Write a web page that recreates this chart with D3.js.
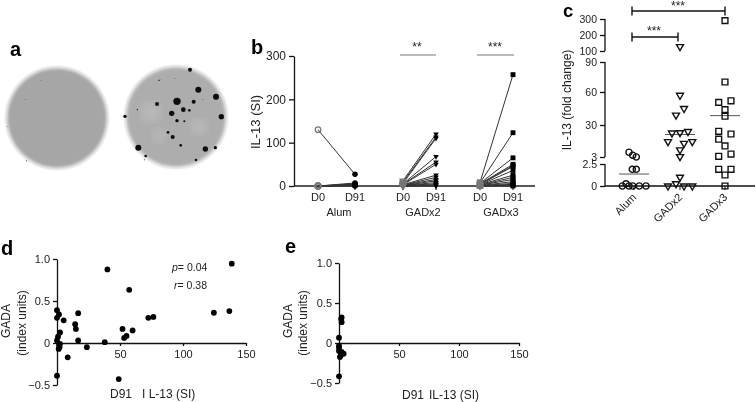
<!DOCTYPE html>
<html><head><meta charset="utf-8">
<script src="https://cdn.jsdelivr.net/npm/d3@7/dist/d3.min.js"></script>
<style>
html,body{margin:0;padding:0;background:#fff}
svg{display:block;filter:blur(0.35px)}
text{font-family:"Liberation Sans",Arial,sans-serif;fill:#222}
</style></head><body><svg id="c" width="756" height="402"></svg>
<script>
// ---------- data ----------
const panelLetters = ["a","b","c","d","e"];
// panel a: colony spots on the second plate, dish-relative units [dx, dy, size]
const plateSpots = [[42,-142,6],[67,-82,9],[120,-61,9],[136,-1,8],[3,-47,11],[53,-46,6],[-57,-39,6],[22,-22,7],[40,-20,4],[-13,-11,8],[3,11,5],[25,13,3],[-24,46,4],[-10,60,6],[14,85,4],[-113,92,9],[88,96,8],[118,92,5],[-91,117,4],[60,129,4],[-153,-2,5],[-51,-110,2],[-116,-22,2]];
const plateSpecks = [[-48,-113,1],[80,-52,1],[-95,128,1.5],[-3,-115,1]];
// panel b
const groupsB = ["Alum","GADx2","GADx3"];
const dayLabels = ["D0","D91"];
const alumD0 = [130,0,0,0,0,0,0,0,0,0];
const alumD91 = [27,7,5,4,3,2,2,1,1,0];
const gad2D0 = [12,9,6,5,4,3,3,2,2,1,1,1,0,0,0];
const gad2D91 = [120,113,110,68,55,50,25,20,15,12,8,5,3,2,0];
const gad3D0 = [8,7,6,5,4,4,3,3,2,2,1,1,0,0,0];
const gad3D91 = [257,123,65,50,47,45,36,25,20,15,10,6,4,2,0];
const ticksB = [0,100,200,300];
// panel c
const ticksC = [0,2.5,3,30,60,90,100,200,300];
const catsC = ["Alum","GADx2","GADx3"];
const alumFold = [7,4.5,3,1.9,1.9,0,0.25,0,0,0,0];
const alumJitter = [-5,-1.3,2.3,-1.7,2.3,-11.7,-8,-5,-1.3,5.3,12];
const gad2Fold = [127,57,45,39,24.5,23.5,23.2,16,16,14.5,9,3.3,1,0.26,0,0,0];
const gad2Jitter = [0,0,4,-4,8,0,-8,-12,12.3,4,0,0,0,-4,-12,4,12.3];
const gad3Fold = [290,70,52,50.6,44,38,24.7,22.4,18,12.3,5.5,3.6,1.9,1.9,1.25,0];
const gad3Jitter = [0,0,6,-6.3,0,0,-6.3,6,-6.3,0,6,-6.3,-6.3,6,0,0];
const mediansC = [1.36,22,38.5];
// panel d
const dX = [138.7,40,57.3,124.5,136.8,72.5,76.5,52,60,55.2,53.3,37.9,23.7,16.8,14.4,15,16.8,8.5,5.3,1.6,0,0,2.4,0.8,0,1.6,2,1.3,0,49,2.4];
const dY = [0.944,0.876,0.633,0.36,0.38,0.30,0.31,0.167,0.15,0.084,0.06,0.01,-0.05,0.355,0.223,0.167,0.03,-0.17,0.27,0.34,0.39,0.30,0.125,0.075,0.03,-0.02,-0.05,-0.07,-0.39,-0.43,-0.01];
// panel e
const eX = [2.2,1.8,2.2,0,0,0,0,2.2,3.9,1.7,0.8,0];
const eY = [0.32,0.30,0.26,0.067,-0.033,-0.06,-0.1,-0.11,-0.133,-0.15,-0.175,-0.417];
const ticksScatterX = [50,100,150];
const ticksScatterY = [-0.5,0,0.5,1];

// ---------- helpers ----------
const svg = d3.select("#c");
const INK = "#111";
const defs = svg.append("defs");
defs.append("filter").attr("id","b2").append("feGaussianBlur").attr("stdDeviation",1.6);
defs.append("filter").attr("id","b1").append("feGaussianBlur").attr("stdDeviation",0.6);
defs.append("filter").attr("id","b5").append("feGaussianBlur").attr("stdDeviation",4);
function styleAxis(g,fs,sw){
  g.selectAll("path.domain").attr("stroke",INK).attr("stroke-width",sw).attr("fill","none");
  g.selectAll(".tick line").attr("stroke",INK).attr("stroke-width",sw);
  g.selectAll("text").attr("font-size",fs).attr("font-family",null).style("fill","#222");
}
function label(x,y,t,fs,opt={}){
  const n = svg.append("text").attr("font-size",fs).attr("text-anchor",opt.anchor||"middle");
  if(opt.rot!==undefined) n.attr("transform",`translate(${x},${y}) rotate(${opt.rot})`);
  else n.attr("x",x).attr("y",y);
  n.text(t);
  return n;
}
const sym = (type,size)=>d3.symbol().type(type).size(size)();

// ---------- panel letters ----------
const letterPos = [[10,56,20],[251,54,20],[563,17,18.5],[1,255,20],[285,253,20]];
panelLetters.forEach((l,i)=>label(letterPos[i][0],letterPos[i][1],l,letterPos[i][2],{anchor:"start"}).attr("font-weight","bold").style("fill","#000"));

// ---------- panel a ----------
const plateR = 50;
function plate(cx,cy,fill,spots,patches){
  const px = d3.scaleLinear().domain([-150,150]).range([cx-plateR,cx+plateR]);
  const py = d3.scaleLinear().domain([-150,150]).range([cy-plateR,cy+plateR]);
  const g = svg.append("g");
  g.append("circle").attr("cx",cx).attr("cy",cy).attr("r",plateR+2.5).attr("fill","#eeeeee").attr("filter","url(#b1)");
  g.append("circle").attr("cx",cx).attr("cy",cy).attr("r",plateR-0.5).attr("fill",fill).attr("filter","url(#b2)");
  g.selectAll(".p").data(patches).join("circle")
    .attr("cx",d=>px(d[0])).attr("cy",d=>py(d[1])).attr("r",d=>d[2]/3)
    .attr("fill","#b9b9b9").attr("filter","url(#b5)");
  g.selectAll(".s").data(spots).join("circle")
    .attr("cx",d=>px(d[0])).attr("cy",d=>py(d[1])).attr("r",d=>d[2]/3)
    .attr("fill","#0a0a0a").attr("filter","url(#b1)");
}
plate(57,118,"#a6a6a6",[[-95,-55,1],[-148,25,1],[-92,128,1.5],[-48,-113,1]],[]);
plate(176,117,"#adadad",plateSpots.concat(plateSpecks),[[-75,-15,30],[-50,55,20],[70,30,24]]);

// ---------- panel b ----------
const yB = d3.scaleLinear().domain([0,300]).range([186,56]);
const xBpos = d3.scaleOrdinal().domain(d3.range(6)).range([318,355,403,436,480,513]);
svg.append("g").attr("transform","translate(294,0)")
  .call(d3.axisLeft(yB).tickValues(ticksB).tickSize(5).tickSizeOuter(0).tickPadding(3))
  .call(g=>styleAxis(g,12,1.3));
const gxB = svg.append("g").attr("transform","translate(0,186)");
gxB.append("line").attr("x1",294).attr("x2",535).attr("stroke","#222").attr("stroke-width",1.3);
const dayIdx = d3.range(6);
gxB.selectAll(".t").data(dayIdx).join("line").attr("x1",d=>xBpos(d)).attr("x2",d=>xBpos(d)).attr("y2",4).attr("stroke",INK).attr("stroke-width",1.1);
gxB.selectAll(".l").data(dayIdx).join("text").attr("x",d=>xBpos(d)).attr("y",15).attr("text-anchor","middle").attr("font-size",11).text(d=>dayLabels[d%2]);
const groupCx = [339,423,501];
groupsB.forEach((g,i)=>label(groupCx[i],216,g,11));
label(260,122,"IL-13 (SI)",13,{rot:-90});
const seriesB = [
 {a:alumD0,b:alumD91,i:0,s:"c",size:24},
 {a:gad2D0,b:gad2D91,i:2,s:"t",size:13},
 {a:gad3D0,b:gad3D91,i:4,s:"s",size:24}];
function mark(sel,s,size){
  if(s==="c") return sel.append("circle").attr("r",Math.sqrt(size/Math.PI));
  if(s==="s") return sel.append("path").attr("d",sym(d3.symbolSquare,size));
  return sel.append("path").attr("d",sym(d3.symbolTriangle,size));
}
seriesB.forEach(S=>{
  const g = svg.append("g");
  S.a.forEach((v,k)=>{
    g.append("line").attr("x1",xBpos(S.i)).attr("y1",yB(v)).attr("x2",xBpos(S.i+1)).attr("y2",yB(S.b[k]))
      .attr("stroke","#333").attr("stroke-width",1);
  });
  S.a.forEach(v=>{
    const m = g.append("g").attr("transform",`translate(${xBpos(S.i)},${yB(v)})${S.s==="t"?" rotate(180)":""}`);
    mark(m,S.s,S.size).attr("fill","none").attr("stroke","#777").attr("stroke-width",1.3);
  });
  S.b.forEach(v=>{
    const m = g.append("g").attr("transform",`translate(${xBpos(S.i+1)},${yB(v)})${S.s==="t"?" rotate(180)":""}`);
    mark(m,S.s,S.size).attr("fill","#000");
  });
});
[[400,436,417,"**"],[477,514,495,"***"]].forEach(b=>{
  svg.append("line").attr("x1",b[0]).attr("x2",b[1]).attr("y1",55).attr("y2",55).attr("stroke","#666").attr("stroke-width",0.9);
  label(b[2],51,b[3],12);
});

// ---------- panel c ----------
const yC = d3.scaleLinear().domain([0,2.5,3,30,60,90,100,200,300]).range([186,164,157,125,92,62,51,35,19]);
const xC = d3.scaleOrdinal().domain(catsC).range([634,680,725]);
const gC = svg.append("g").attr("transform","translate(605,0)");
gC.call(d3.axisLeft(yC).tickValues(ticksC).tickFormat(d=>d).tickSize(5).tickSizeOuter(0).tickPadding(3));
styleAxis(gC,10.5,1.3);
gC.select("path.domain").remove();
[[0,2.5],[3,90],[100,300]].forEach(r=>gC.append("line").attr("y1",yC(r[0])).attr("y2",yC(r[1])).attr("stroke",INK).attr("stroke-width",1.3));
svg.append("line").attr("x1",605).attr("x2",755).attr("y1",186).attr("y2",186).attr("stroke",INK).attr("stroke-width",1.3);
catsC.forEach(c=>{
  svg.append("line").attr("x1",xC(c)).attr("x2",xC(c)).attr("y1",186).attr("y2",190).attr("stroke",INK).attr("stroke-width",1);
  label(xC(c)+3,198,c,11,{anchor:"end",rot:-45});
});
label(571,100,"IL-13 (fold change)",12,{rot:-90});
const seriesC = [
 {c:"Alum",v:alumFold,j:alumJitter,s:"c",size:30},
 {c:"GADx2",v:gad2Fold,j:gad2Jitter,s:"t",size:21},
 {c:"GADx3",v:gad3Fold,j:gad3Jitter,s:"s",size:34}];
seriesC.forEach((S,i)=>{
  svg.append("line").attr("x1",xC(S.c)-15).attr("x2",xC(S.c)+15).attr("y1",yC(mediansC[i])).attr("y2",yC(mediansC[i])).attr("stroke","#555").attr("stroke-width",1);
  S.v.forEach((v,k)=>{
    const m = svg.append("g").attr("transform",`translate(${xC(S.c)+S.j[k]},${yC(v)})${S.s==="t"?" rotate(180)":""}`);
    mark(m,S.s,S.size).attr("fill","none").attr("stroke","#111").attr("stroke-width",1.4);
  });
});
[[632,725,11,678,9.5,"***"],[632,678,37,654,35,"***"]].forEach(b=>{
  svg.append("line").attr("x1",b[0]).attr("x2",b[1]).attr("y1",b[2]).attr("y2",b[2]).attr("stroke",INK).attr("stroke-width",1.4);
  [b[0],b[1]].forEach(x=>svg.append("line").attr("x1",x).attr("x2",x).attr("y1",b[2]-4.5).attr("y2",b[2]+4.5).attr("stroke",INK).attr("stroke-width",1.4));
  label(b[3],b[4],b[5],12);
});

// ---------- panels d, e ----------
function scatter(cfg){
  const x = d3.scaleLinear().domain([0,150]).range(cfg.xr);
  const y = d3.scaleLinear().domain([-0.5,1]).range(cfg.yr);
  svg.append("g").attr("transform",`translate(${cfg.xr[0]},0)`)
    .call(d3.axisLeft(y).tickValues(ticksScatterY).tickFormat(d=>d===0?"0":d3.format(".1f")(d)).tickSize(4).tickSizeOuter(0).tickPadding(3))
    .call(g=>styleAxis(g,11,1.3));
  svg.append("g").attr("transform",`translate(0,${y(0)})`)
    .call(d3.axisBottom(x).tickValues(ticksScatterX).tickSize(3).tickSizeOuter(0).tickPadding(4))
    .call(g=>styleAxis(g,11,1.3));
  svg.selectAll(null).data(cfg.xs).join("circle")
    .attr("cx",d=>x(d)).attr("cy",(d,i)=>y(cfg.ys[i])).attr("r",2.9).attr("fill","#000");
}
scatter({xr:[57,246],yr:[385,259],xs:dX,ys:dY});
scatter({xr:[339,519],yr:[383,263],xs:eX,ys:eY});
label(10,321,"GADA",12,{rot:-90});
label(26,323,"(index units)",12,{rot:-90});
label(292,321,"GADA",12,{rot:-90});
label(307,323,"(index units)",12,{rot:-90});
label(110,397.5,"D91",12,{anchor:"start"});
label(142,397.5,"I L-13 (SI)",12,{anchor:"start"});
label(402,399,"D91",12,{anchor:"start"});
label(429,399,"IL-13 (SI)",12,{anchor:"start"});
const pT = label(172,271,"",10.5,{anchor:"start"});
pT.append("tspan").attr("font-style","italic").text("p");
pT.append("tspan").text("= 0.04");
const rT = label(174,289,"",10.5,{anchor:"start"});
rT.append("tspan").attr("font-style","italic").text("r");
rT.append("tspan").text("= 0.38");
</script></body></html>
